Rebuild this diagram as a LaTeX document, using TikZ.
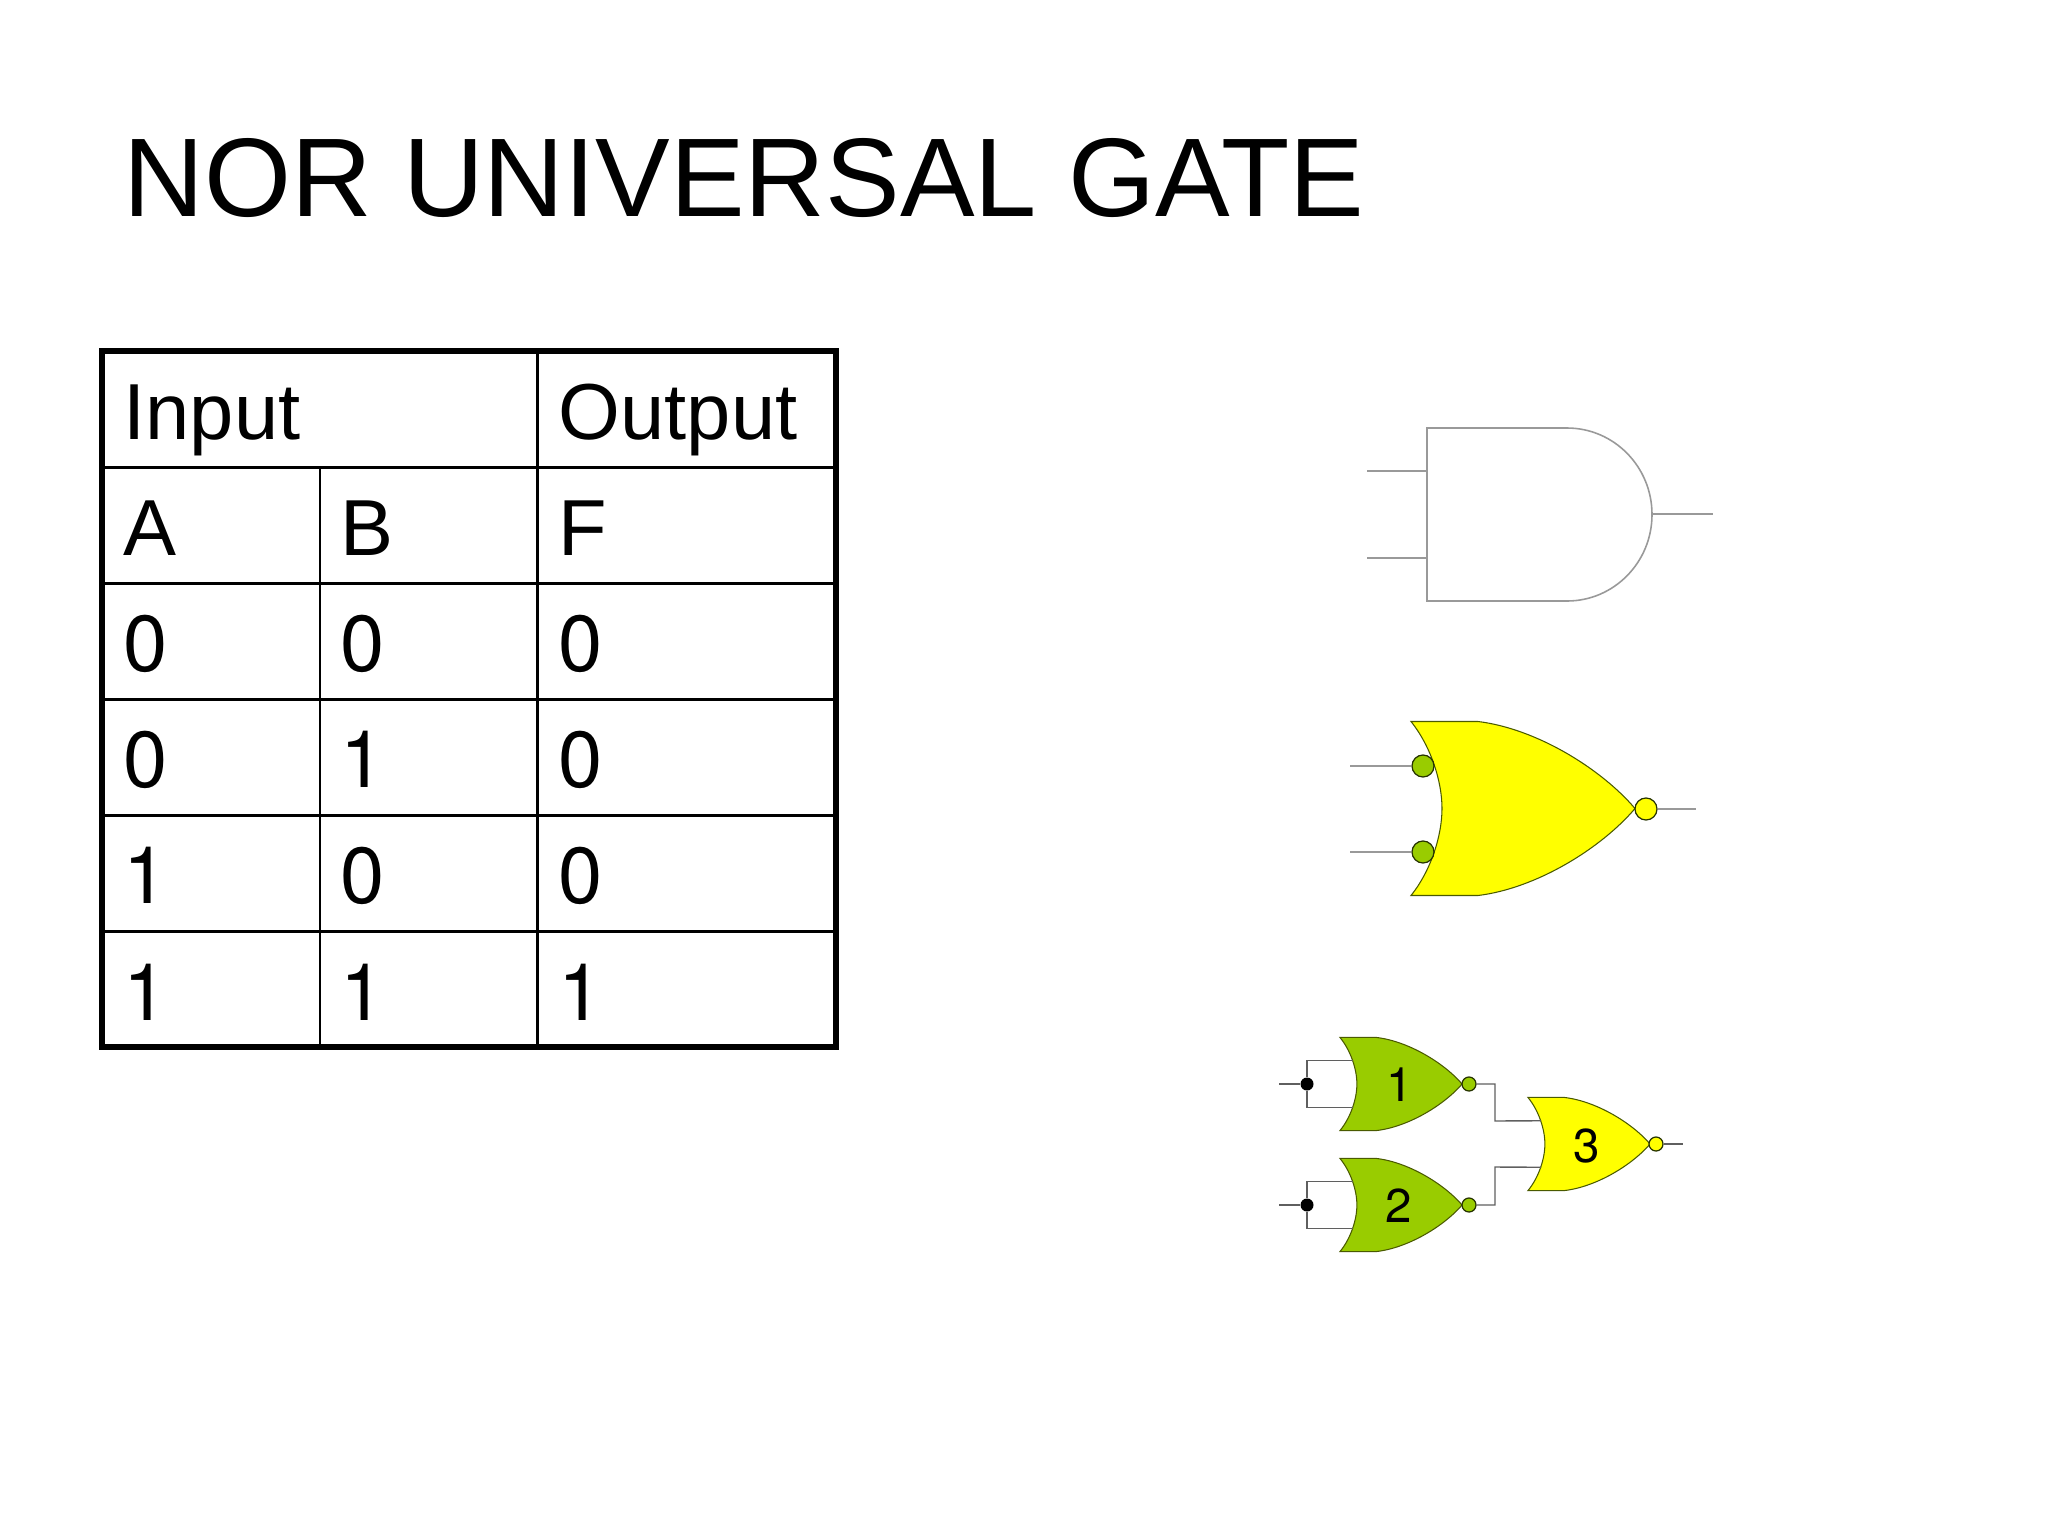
\documentclass[tikz,border=0pt]{standalone}
\usepackage{fontspec}
\setmainfont{Liberation Sans}
\newfontfamily\digitfont{TeX Gyre Heros}
\usepackage{tikz}
\definecolor{gategreen}{HTML}{99CC00}
\definecolor{gateyellow}{HTML}{FFFF00}
\definecolor{wiregray}{HTML}{5F5F5F}
\definecolor{lightwire}{HTML}{999999}
\definecolor{edgeolive}{HTML}{4A5A00}
\tikzset{
    titletext/.style={anchor=base west, inner sep=0pt, text=black,
    	font=\fontsize{31.8}{38}\selectfont},
    cell/.style={anchor=base west, inner sep=0pt, text=black,
    	font=\fontsize{22.6}{27}\selectfont},
    digitcell/.style={cell, font=\fontsize{22.6}{27}\digitfont},
    gatenum/.style={inner sep=0pt, font=\fontsize{13.5}{16}\digitfont},
    wire/.style={draw=wiregray, line width=.4pt},
    thinwire/.style={draw=lightwire, line width=.45pt},
    gridline/.style={draw=black, line width=.85pt},
    bubble/.style={circle, draw=black!75!gategreen, line width=.35pt, inner sep=0pt}
}
\tikzset{
    norgate/.pic={
    	\draw[draw=edgeolive, line width=.3pt, fill=#1] (0,-87) -- (67,-87)
    	  .. controls (125,-80) and (190,-40) .. (224,0)
    	  .. controls (190,40) and (125,80) .. (67,87) -- (0,87)
    	  .. controls (20,62) and (31,27) .. (31,0)
    	  .. controls (31,-27) and (20,-62) .. (0,-87) -- cycle;
    	\coordinate (-in1) at (24,-43.5);
    	\coordinate (-in2) at (24,43.5);
    }
}

\begin{document}
\begin{tikzpicture}[x=.01cm,y=-.01cm]
  \useasboundingbox (0,0) rectangle (2048,1536);

  \node (title) [titletext] at (123,216) {NOR UNIVERSAL GATE};

  % table
  \draw[gridline] (102,467) -- (836,467);
  \draw[gridline] (102,583) -- (836,583);
  \draw[gridline] (102,699) -- (836,699);
  \draw[gridline] (102,815) -- (836,815);
  \draw[gridline] (102,931) -- (836,931);
  \draw[gridline] (320,467) -- (320,1047);
  \draw[gridline] (537,351) -- (537,1047);
  \draw[draw=black, line width=1.7pt] (102,351) rectangle (836,1047);

  \node (input) [cell] at (123,439) {Input};
  \node (output) [cell] at (558,439) {Output};
  \node (ha) [cell] at (123,555) {A};
  \node (hb) [cell] at (340,555) {B};
  \node (hf) [cell] at (558,555) {F};
  \node (a0) [digitcell] at (123,671) {0};
  \node (b0) [digitcell] at (340,671) {0};
  \node (f0) [digitcell] at (558,671) {0};
  \node (a1) [digitcell] at (123,787) {0};
  \node (b1) [digitcell] at (340,787) {1};
  \node (f1) [digitcell] at (558,787) {0};
  \node (a2) [digitcell] at (123,903) {1};
  \node (b2) [digitcell] at (340,903) {0};
  \node (f2) [digitcell] at (558,903) {0};
  \node (a3) [digitcell] at (123,1020) {1};
  \node (b3) [digitcell] at (340,1020) {1};
  \node (f3) [digitcell] at (558,1020) {1};

  % outline gate
  \draw[thinwire] (1427,428) -- (1567,428) arc (-90:90:85 and 86.5) -- (1427,601) -- cycle;
  \coordinate (andin1) at (1427,471);
  \coordinate (andin2) at (1427,558);
  \coordinate (andout) at (1652,514);
  \coordinate (andfree1) at (1367,471);
  \coordinate (andfree2) at (1367,558);
  \coordinate (andfree3) at (1713,514);
  \draw[thinwire] (andfree1) -- (andin1);
  \draw[thinwire] (andfree2) -- (andin2);
  \draw[thinwire] (andout) -- (andfree3);

  % yellow gate
  \pic (big) at (1411,808.5) {norgate=gateyellow};
  \node (bigb1) [bubble, fill=gategreen, minimum size=.22cm] at (1423,766) {};
  \node (bigb2) [bubble, fill=gategreen, minimum size=.22cm] at (1423,852) {};
  \node (bigb3) [bubble, fill=gateyellow, minimum size=.22cm] at (1646,809) {};
  \coordinate (bigfree1) at (1350,766);
  \coordinate (bigfree2) at (1350,852);
  \coordinate (bigfree3) at (1696,809);
  \draw[thinwire] (bigfree1) -- (bigb1);
  \draw[thinwire] (bigfree2) -- (bigb2);
  \draw[thinwire] (bigb3) -- (bigfree3);

  % three small gates
  \pic[xscale=.545,yscale=.535] (g1) at (1340,1084) {norgate=gategreen};
  \pic[xscale=.545,yscale=.535] (g2) at (1340,1205) {norgate=gategreen};
  \pic[xscale=.545,yscale=.535] (g3) at (1528,1144) {norgate=gateyellow};
  \node (n1) [gatenum] at (1400,1085) {1};
  \node (n2) [gatenum] at (1399,1206) {2};
  \node (n3) [gatenum] at (1587,1146) {3};
  \node (o1) [bubble, fill=gategreen, minimum size=.14cm] at (1469,1084) {};
  \node (o2) [bubble, fill=gategreen, minimum size=.14cm] at (1469,1205) {};
  \node (o3) [bubble, fill=gateyellow, minimum size=.14cm] at (1656,1144) {};
  \node (j1) [circle, fill=black, inner sep=0pt, minimum size=.13cm] at (1307,1084) {};
  \node (j2) [circle, fill=black, inner sep=0pt, minimum size=.13cm] at (1307,1205) {};
  \coordinate (free1) at (1279,1084);
  \coordinate (free2) at (1279,1205);
  \coordinate (free3) at (1683,1144);
  \coordinate (m1) at (1495,1121);
  \coordinate (m2) at (1495,1167);

  \draw[wire] (free1) -- (j1);
  \draw[wire] (free2) -- (j2);
  \draw[wire] (j1) |- (g1-in1);
  \draw[wire] (j1) |- (g1-in2);
  \draw[wire] (j2) |- (g2-in1);
  \draw[wire] (j2) |- (g2-in2);
  \draw[wire] (o1) -| (m1) -- (g3-in1);
  \draw[wire] (o2) -| (m2) -- (g3-in2);
  \draw[wire] (o3) -- (free3);
\end{tikzpicture}
\end{document}
